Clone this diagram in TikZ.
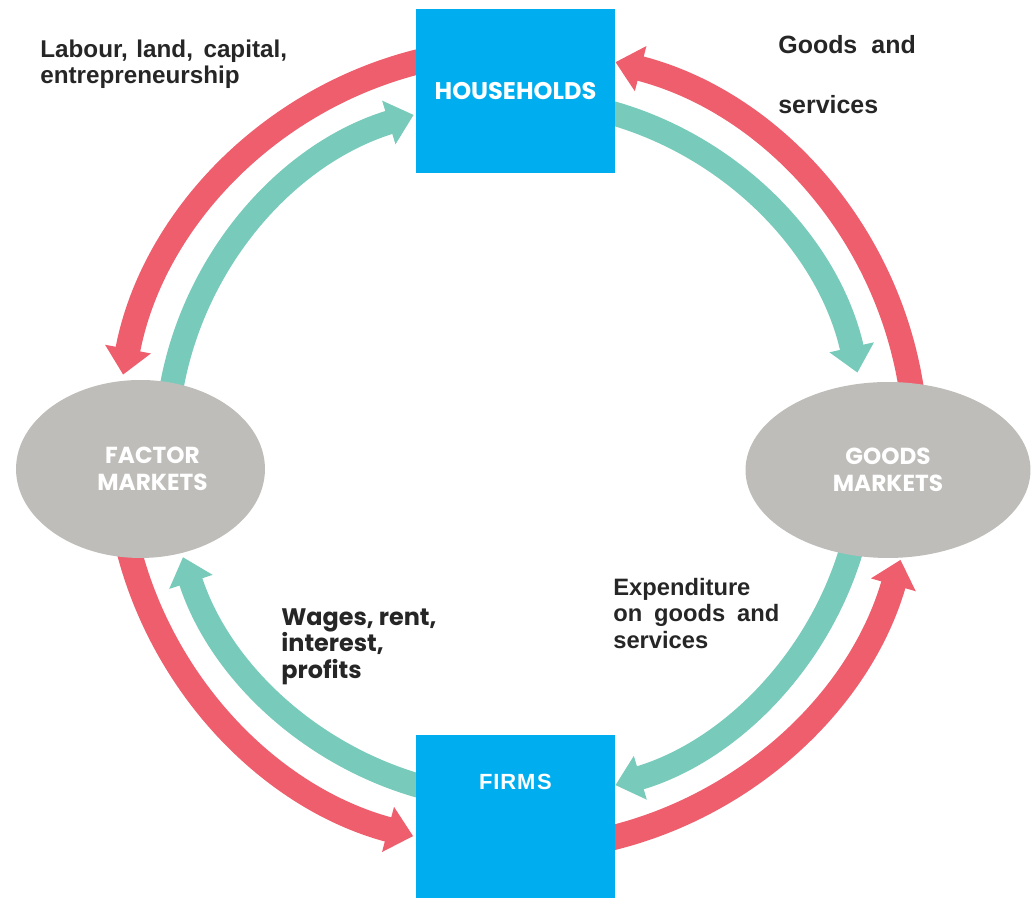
\documentclass[tikz,border=0pt]{standalone}
\usepackage{fontspec}
\setmainfont{Liberation Sans}
\newfontfamily\geofont{Poppins}
\usetikzlibrary{arrows.meta,shapes.geometric}
\definecolor{hhblue}{HTML}{00AEEF}
\definecolor{mktgray}{HTML}{BEBDB9}
\definecolor{flowred}{HTML}{EE5E6D}
\definecolor{flowteal}{HTML}{78CBBA}
\definecolor{labeltext}{HTML}{262626}
\begin{document}
\begin{tikzpicture}[x=0.02cm,y=0.02cm,
  agent/.style={rectangle, fill=hhblue, inner sep=0pt, minimum width=3.98cm},
  market/.style={ellipse, fill=mktgray, inner sep=0pt},
  mkttext/.style={text=white, font=\geofont\bfseries\fontsize{13.2}{15.6}\selectfont, align=center},
  redflow/.style={draw=flowred, line width=0.5cm, -{Triangle[width=0.9cm,length=0.52cm]}},
  tealflow/.style={draw=flowteal, line width=0.48cm, -{Triangle[width=0.88cm,length=0.52cm]}},
  flowlabel/.style={text=labeltext, inner sep=0pt, align=left, anchor=north west}
]
\useasboundingbox (0,0) rectangle (1032,898);
\clip (0,0) rectangle (1032,898);
\coordinate (c) at (516,448.4);

% red (outer) flows
\draw[redflow] ([shift={(103:400)}]c) arc[start angle=103, end angle=169.2, radius=400];
\draw[redflow] ([shift={(8:400)}]c) arc[start angle=8, end angle=75.6, radius=400];
\draw[redflow] ([shift={(193:400)}]c) arc[start angle=193, end angle=255.1, radius=400];
\draw[redflow] ([shift={(-77:400)}]c) arc[start angle=-77, end angle=-16, radius=400];

% teal (inner) flows
\draw[tealflow] ([shift={(171:350)}]c) arc[start angle=171, end angle=107, radius=350];
\draw[tealflow] ([shift={(75:350)}]c) arc[start angle=75, end angle=12.7, radius=350];
\draw[tealflow] ([shift={(256:350)}]c) arc[start angle=256, end angle=197.9, radius=350];
\draw[tealflow] ([shift={(-16:350)}]c) arc[start angle=-16, end angle=-73.5, radius=350];

% agents
\node[agent, minimum height=3.28cm, text=white,
      font=\geofont\bfseries\fontsize{13.7}{16}\selectfont] (hh) at (515.5,807) {HOUSEHOLDS};
\node[agent, minimum height=3.6cm, anchor=north,
      label={[text=white, inner sep=0pt, label distance=-1.1cm,
              font=\bfseries\fontsize{12.5}{14}\selectfont]north:F\kern0.5pt I\kern0.5pt R\kern0.5pt M\kern1pt S}] (firms) at (515.5,163) {};

% markets
\node[market, minimum width=4.98cm, minimum height=3.56cm,
      label={[mkttext, xshift=0.24cm]center:{FACTOR\\MARKETS}}] (factor) at (140.5,429) {};
\node[market, minimum width=5.7cm, minimum height=3.52cm, mkttext] (goods) at (888,428) {GOODS\\MARKETS};

% flow labels
\node[flowlabel, font=\bfseries\fontsize{13.8}{14.8}\selectfont] (lab1) at (40,858)
  {Labour,\hspace{1pt} land,\hspace{6pt}capital,\\entrepreneurship};
\node[flowlabel, font=\bfseries\fontsize{14.2}{34}\selectfont] (lab2) at (778,863)
  {Goods\hspace{8pt}and\\services};
\node[flowlabel, font=\bfseries\fontsize{13.5}{15}\selectfont] (lab3) at (613,320)
  {Expenditure\\on\hspace{3pt} goods\hspace{3pt} and\\services};
\node[flowlabel, font=\geofont\bfseries\fontsize{13.6}{15.2}\selectfont] (lab4) at (281,290)
  {Wages, rent,\\interest,\\profits};
\end{tikzpicture}
\end{document}
